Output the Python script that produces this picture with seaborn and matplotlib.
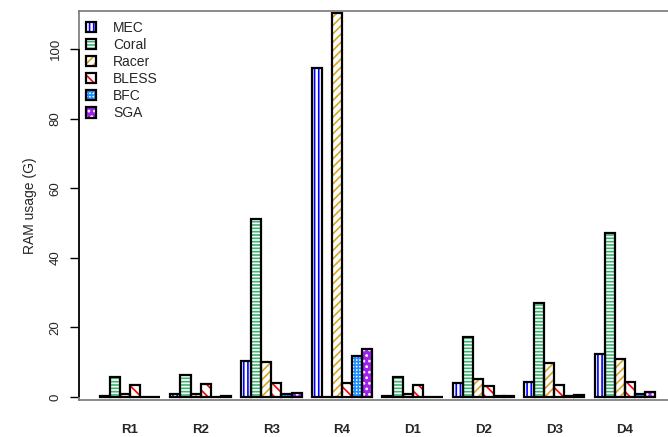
import pandas as pd
import seaborn as sns
import matplotlib.pyplot as plt
from matplotlib.patches import Patch, Rectangle

# values (RAM in G)
datasets = ["R1", "R2", "R3", "R4", "D1", "D2", "D3", "D4"]
tools = ["MEC", "Coral", "Racer", "BLESS", "BFC", "SGA"]
mec = [0.4, 0.8, 10.4, 94.5, 0.3, 3.9, 4.4, 12.3]
coral = [5.7, 6.4, 51.0, 0.1, 5.8, 17.2, 27.0, 47.0]
racer = [1.0, 1.0, 10.2, 110.3, 1.0, 5.1, 9.7, 11.0]
bless = [3.5, 3.6, 3.9, 3.9, 3.4, 3.2, 3.4, 4.2]
bfc = [0.1, 0.1, 0.8, 11.9, 0.1, 0.3, 0.2, 1.0]
sga = [0.1, 0.2, 1.2, 13.7, 0.1, 0.3, 0.6, 1.3]

colors = ["#0000FF", "#3CB371", "#DAA520", "#FF0000", "#1E90FF", "#A020F0"]
hatches = ["||||", "-----", "////", "\\\\\\", "+++++", "..."]
# fill behind the hatch, and the hatch colour
faces = ["white", "white", "white", "white", "white", "#A020F0"]
hatch_cols = ["#0000FF", "#3CB371", "#DAA520", "#FF0000", "#1E90FF", "white"]

series = [mec, coral, racer, bless, bfc, sga]
df = pd.DataFrame({
    "dataset": datasets * len(tools),
    "tool": [t for t in tools for _ in datasets],
    "ram": [v for s in series for v in s],
})

sns.set_style("white")
plt.rcParams["font.family"] = ["Liberation Sans", "DejaVu Sans"]
plt.rcParams["hatch.linewidth"] = 1.2

fig = plt.figure(figsize=(6.68, 4.37), dpi=100)
ax = fig.add_axes([79 / 668, 37 / 437, 598.5 / 668, 389 / 437])

sns.barplot(data=df, x="dataset", y="ram", hue="tool", hue_order=tools,
            palette=colors, width=6 / 7, gap=0, saturation=1,
            legend=False, ax=ax)

# colored hatch inside, black outline on top
for cont, fc, hc, hat in zip(ax.containers, faces, hatch_cols, hatches):
    for bar in cont:
        bar.set_facecolor(fc)
        bar.set_edgecolor(hc)
        bar.set_hatch(hat)
        bar.set_linewidth(0)
        ax.add_patch(Rectangle(bar.get_xy(), bar.get_width(), bar.get_height(),
                               fill=False, edgecolor="black", lw=1.6,
                               zorder=bar.get_zorder() + 0.1))

ax.set_xlim(-0.72, 7.744)
ax.set_ylim(-0.86, 110.9)

for side in ["top", "bottom", "left", "right"]:
    ax.spines[side].set_color("#777777")
    ax.spines[side].set_linewidth(1.2)
ax.vlines(-0.72, 0, 100, color="black", lw=1.2, clip_on=False, zorder=5)

ax.set_yticks([0, 20, 40, 60, 80, 100])
ax.tick_params(axis="y", left=True, length=6.5, width=1, color="black",
               labelsize=9.5, pad=6)
for lab in ax.get_yticklabels():
    lab.set_rotation(90)
    lab.set_va("center")
ax.tick_params(axis="x", bottom=False, length=0, labelsize=9.5, pad=17)
for lab in ax.get_xticklabels():
    lab.set_fontweight("bold")

ax.set_xlabel("")
ax.set_ylabel("RAM usage (G)", fontsize=10)
ax.yaxis.set_label_coords(-0.07, 0.5)

handles = [(Patch(facecolor=fc, edgecolor=hc, hatch=h, lw=0),
            Patch(fill=False, edgecolor="black", lw=1.6))
           for fc, hc, h in zip(faces, hatch_cols, hatches)]
ax.legend(handles, tools, loc="upper left", frameon=False, fontsize=10,
          bbox_to_anchor=(86 / 668, 1 - 21 / 437), bbox_transform=fig.transFigure,
          borderaxespad=0, borderpad=0, handlelength=0.75, handleheight=0.75,
          handletextpad=1.2, labelspacing=0.22)

plt.savefig("out.png", dpi=100)
